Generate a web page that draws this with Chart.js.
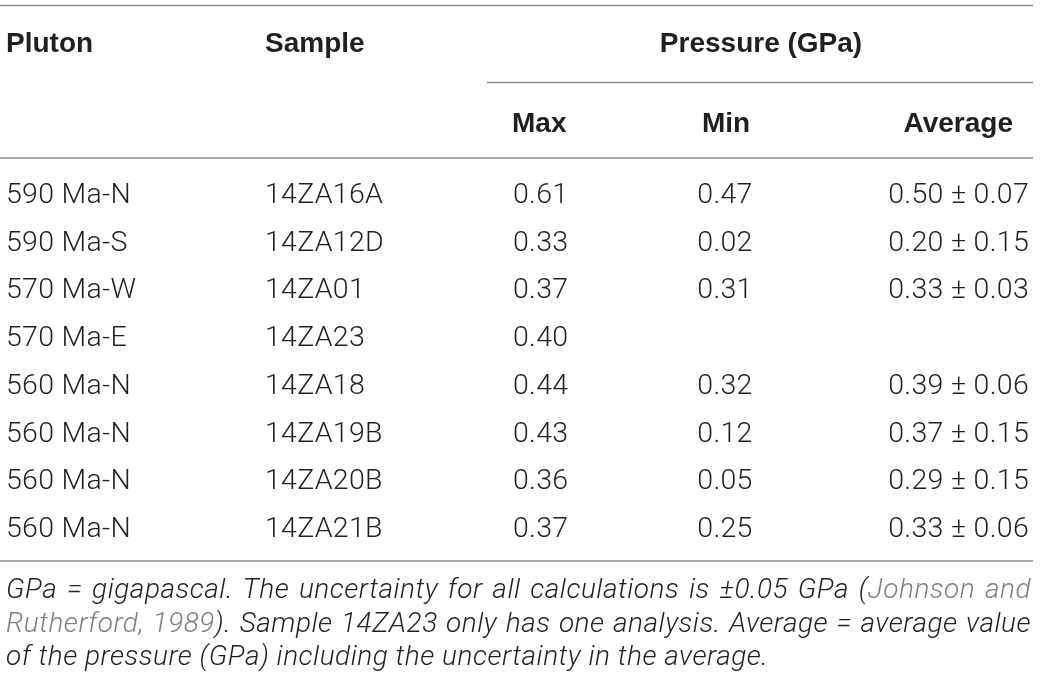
<!DOCTYPE html>
<html>
<head>
<meta charset="utf-8">
<script src="https://cdn.jsdelivr.net/npm/chart.js@4.4.1/dist/chart.umd.min.js"></script>
<style>
  html, body { margin:0; padding:0; background:#fff; }
  #wrap { width:1040px; height:684px; position:relative; }
</style>
</head>
<body>
<div id="wrap"><canvas id="c"></canvas></div>
<script>
// table data
const plutons = ['590 Ma-N','590 Ma-S','570 Ma-W','570 Ma-E','560 Ma-N','560 Ma-N','560 Ma-N','560 Ma-N'];
const samples = ['14ZA16A','14ZA12D','14ZA01','14ZA23','14ZA18','14ZA19B','14ZA20B','14ZA21B'];
const maxP    = [0.61, 0.33, 0.37, 0.40, 0.44, 0.43, 0.36, 0.37];
const minP    = [0.47, 0.02, 0.31, null, 0.32, 0.12, 0.05, 0.25];
const avgP    = [0.50, 0.20, 0.33, null, 0.39, 0.37, 0.29, 0.33];
const avgErr  = [0.07, 0.15, 0.03, null, 0.06, 0.15, 0.15, 0.06];

const INK = '#231f20', GREY = '#808080', RULE = '#8c8c8c';
const BODY = '300 28.5px Roboto, "Liberation Sans", sans-serif';
const BOLD = 'bold 28px "Liberation Sans", Arial, sans-serif';
const NOTE = 'italic 300 28px Roboto, "Liberation Sans", sans-serif';

// column anchors (x in px, layout only)
const cols = [
  { key:'pluton', x:6,    align:'left',   head:'Pluton' },
  { key:'sample', x:265,  align:'left',   head:'Sample' },
  { key:'max',    x:513,  align:'left',   head:'Max',     hx:512 },
  { key:'min',    x:725,  align:'center', head:'Min',     hx:726 },
  { key:'avg',    x:1029, align:'right',  head:'Average', hx:1013 }
];
const f2 = v => v.toFixed(2);
const cellText = {
  pluton: plutons,
  sample: samples,
  max: maxP.map(v => v == null ? '' : f2(v)),
  min: minP.map(v => v == null ? '' : f2(v)),
  avg: avgP.map((v, i) => v == null ? '' : f2(v) + ' \u00b1 ' + f2(avgErr[i]))
};

const note = [
  [[['GPa','k']],[['=','k']],[['gigapascal.','k']],[['The','k']],[['uncertainty','k']],[['for','k']],[['all','k']],[['calculations','k']],[['is','k']],[['\u00b10.05','k']],[['GPa','k']],[['(','k'],['Johnson','g']],[['and','g']]],
  [[['Rutherford,','g']],[['1989','g'],[').','k']],[['Sample','k']],[['14ZA23','k']],[['only','k']],[['has','k']],[['one','k']],[['analysis.','k']],[['Average','k']],[['=','k']],[['average','k']],[['value','k']]],
  [[['of','k']],[['the','k']],[['pressure','k']],[['(GPa)','k']],[['including','k']],[['the','k']],[['uncertainty','k']],[['in','k']],[['the','k']],[['average.','k']]]
];

const tablePlugin = {
  id: 'tablePlugin',
  afterDatasetsDraw(chart) {
    const ctx = chart.ctx;
    const capOff = 10;
    ctx.save();
    // rules
    ctx.strokeStyle = RULE; ctx.lineWidth = 1.3;
    const hline = (x1, x2, y) => { ctx.beginPath(); ctx.moveTo(x1, y); ctx.lineTo(x2, y); ctx.stroke(); };
    hline(0, 1033, 5.5);
    hline(487, 1033, 82.5);
    hline(0, 1033, 158);
    hline(0, 1033, 561);
    // headers
    ctx.fillStyle = INK; ctx.font = BOLD; ctx.textBaseline = 'alphabetic';
    ctx.textAlign = 'left';
    ctx.fillText('Pluton', 6, 52);
    ctx.fillText('Sample', 265, 52);
    ctx.textAlign = 'center';
    ctx.fillText('Pressure (GPa)', 761, 52);
    cols.slice(2).forEach(c => { ctx.textAlign = c.align; ctx.fillText(c.head, c.hx, 132); });
    // cells
    ctx.font = BODY;
    ctx.letterSpacing = '0.3px';
    chart.data.datasets.forEach((ds, di) => {
      const meta = chart.getDatasetMeta(di);
      ctx.textAlign = ds.align;
      meta.data.forEach((el, i) => {
        const t = ds.texts[i];
        if (t) ctx.fillText(t, el.x, el.y + capOff);
      });
    });
    // footnote, justified
    ctx.font = NOTE; ctx.textAlign = 'left';
    ctx.letterSpacing = '0.5px';
    const left = 6, right = 1031;
    const bases = [598, 632, 665];
    note.forEach((words, li) => {
      const widths = words.map(w => w.reduce((s, p) => s + ctx.measureText(p[0]).width, 0));
      const total = widths.reduce((a, b) => a + b, 0);
      const space = ctx.measureText(' ').width;
      const gap = li < 2 ? (right - left - total) / (words.length - 1) : space;
      let x = left;
      words.forEach(w => {
        w.forEach(p => {
          ctx.fillStyle = p[1] === 'g' ? GREY : INK;
          ctx.fillText(p[0], x, bases[li]);
          x += ctx.measureText(p[0]).width;
        });
        x += gap;
      });
    });
    ctx.restore();
  }
};

const datasets = cols.map(c => ({
  label: c.head,
  align: c.align,
  texts: cellText[c.key],
  data: samples.map(s => ({ x: c.x, y: s })),
  pointRadius: 0,
  showLine: false
}));

new Chart(document.getElementById('c'), {
  type: 'scatter',
  data: { datasets },
  options: {
    responsive: true, maintainAspectRatio: false, animation: false,
    layout: { padding: { top: 169, bottom: 133, left: 0, right: 0 } },
    scales: {
      x: { type: 'linear', min: 0, max: 1040, display: false },
      y: { type: 'category', labels: samples, offset: true, display: false }
    },
    plugins: { legend: { display: false }, tooltip: { enabled: false } }
  },
  plugins: [tablePlugin]
});
</script>
</body>
</html>
